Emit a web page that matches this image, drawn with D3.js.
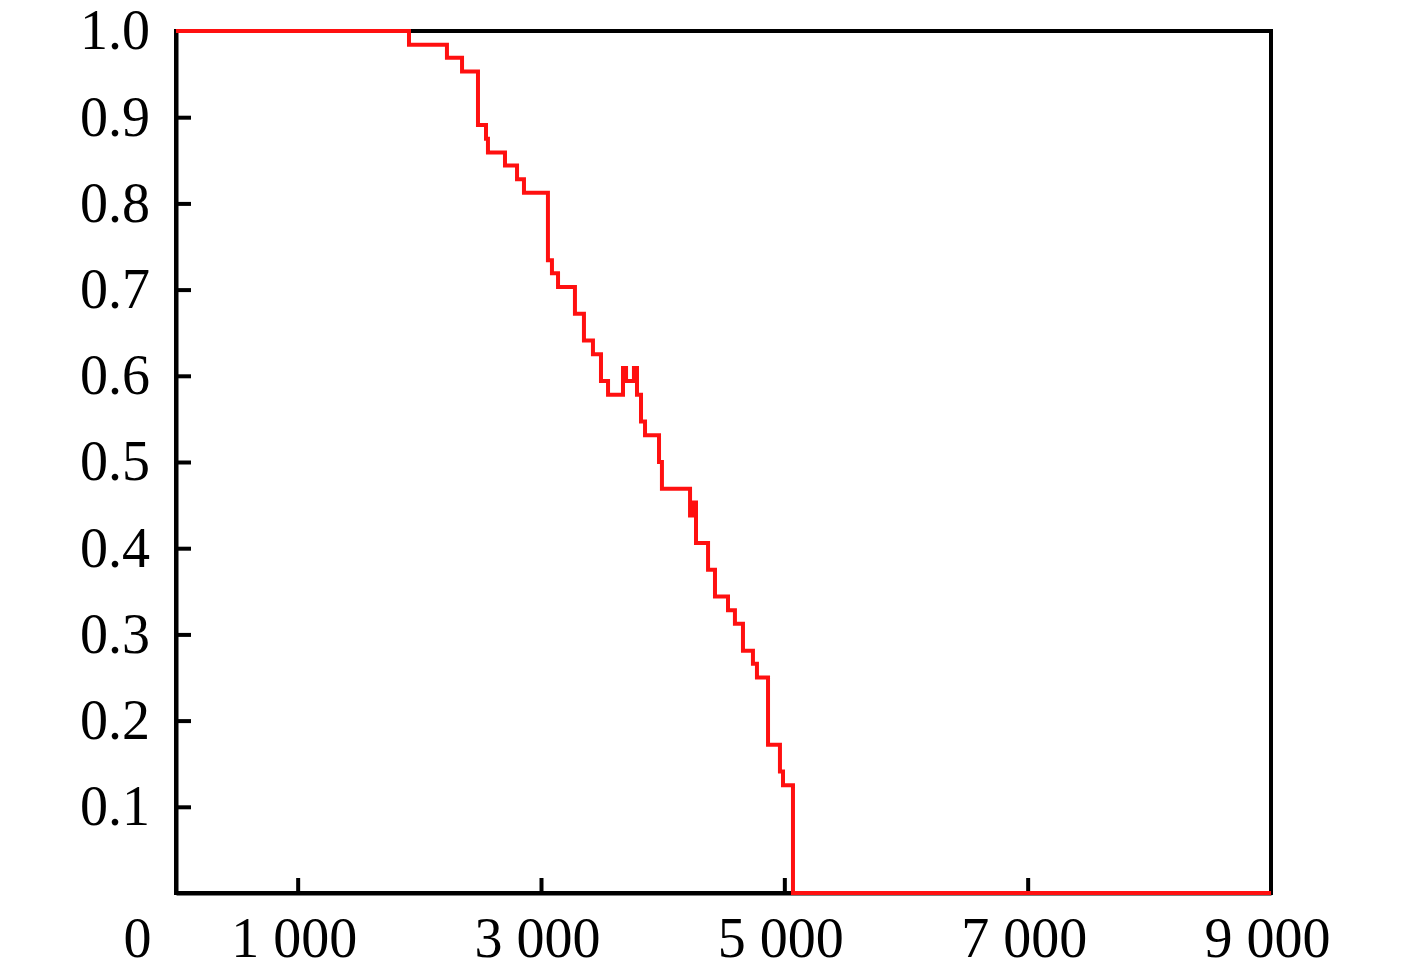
<!DOCTYPE html>
<html>
<head>
<meta charset="utf-8">
<script src="https://cdn.jsdelivr.net/npm/d3@7"></script>
<style>
  body { margin: 0; background: #fff; }
  .axis text { font-family: "Liberation Serif", "Times New Roman", serif; font-size: 56px; fill: #000; }
  .axis path, .axis line { stroke: #000; stroke-width: 4; }
</style>
</head>
<body>
<svg width="1417" height="973"></svg>
<script>
// step curve
var times = [0, 1915, 2227, 2351, 2482, 2548, 2564, 2704, 2803, 2860,
             3057, 3090, 3140, 3279, 3353, 3427, 3493, 3551, 3674, 3699,
             3764, 3789, 3822, 3855, 3970, 3994, 4225, 4249, 4274, 4373,
             4430, 4537, 4594, 4660, 4742, 4775, 4866, 4964, 4989, 5071, 9000];
var survival = [1.0, 0.984, 0.969, 0.953, 0.891, 0.875, 0.859, 0.844, 0.828, 0.8125,
                0.734, 0.719, 0.703, 0.672, 0.641, 0.625, 0.594, 0.578, 0.609, 0.594,
                0.609, 0.578, 0.547, 0.531, 0.5, 0.469, 0.438, 0.453, 0.406, 0.375,
                0.344, 0.328, 0.3125, 0.281, 0.266, 0.25, 0.172, 0.141, 0.125, 0, 0];

var xTicks = [0, 1000, 3000, 5000, 7000, 9000];
var yTicks = [0.1, 0.2, 0.3, 0.4, 0.5, 0.6, 0.7, 0.8, 0.9, 1.0];

var svg = d3.select("svg");
var plotL = 176, plotR = 1271, plotT = 31, plotB = 893;

var x = d3.scaleLinear().domain([0, 9000]).range([plotL, plotR]);
var y = d3.scaleLinear().domain([0, 1]).range([plotB, plotT]);

var fmt = d3.formatLocale({decimal: ".", thousands: " ", grouping: [3], currency: ["", ""]}).format(",d");

// frame
svg.append("rect")
    .attr("x", plotL).attr("y", plotT)
    .attr("width", plotR - plotL).attr("height", plotB - plotT)
    .attr("fill", "none").attr("stroke", "#000").attr("stroke-width", 4);

var xAxis = svg.append("g")
    .attr("class", "axis")
    .attr("transform", "translate(0," + plotB + ")")
    .call(d3.axisBottom(x).tickValues(xTicks).tickFormat(fmt)
        .tickSizeInner(-15).tickSizeOuter(0).tickPadding(24));

xAxis.selectAll(".tick text").attr("x", -4);
// the 0 label sits left of the corner
xAxis.selectAll(".tick").filter(function(d) { return d === 0; })
    .select("text").attr("x", -39);
xAxis.selectAll(".tick").filter(function(d) { return d === 0 || d === 9000; })
    .select("line").remove();

var yAxis = svg.append("g")
    .attr("class", "axis")
    .attr("transform", "translate(" + plotL + ",0)")
    .call(d3.axisLeft(y).tickValues(yTicks).tickFormat(d3.format(".1f"))
        .tickSizeInner(-15).tickSizeOuter(0).tickPadding(26));

yAxis.selectAll(".tick").filter(function(d) { return d === 1.0; })
    .select("line").remove();

var pts = times.map(function(t, i) { return [t, survival[i]]; });

var line = d3.line()
    .x(function(d) { return x(d[0]); })
    .y(function(d) { return y(d[1]); })
    .curve(d3.curveStepAfter);

svg.append("path")
    .datum(pts)
    .attr("d", line)
    .attr("fill", "none")
    .attr("stroke", "#ff1010")
    .attr("stroke-width", 4)
    .attr("stroke-linejoin", "miter");
</script>
</body>
</html>
